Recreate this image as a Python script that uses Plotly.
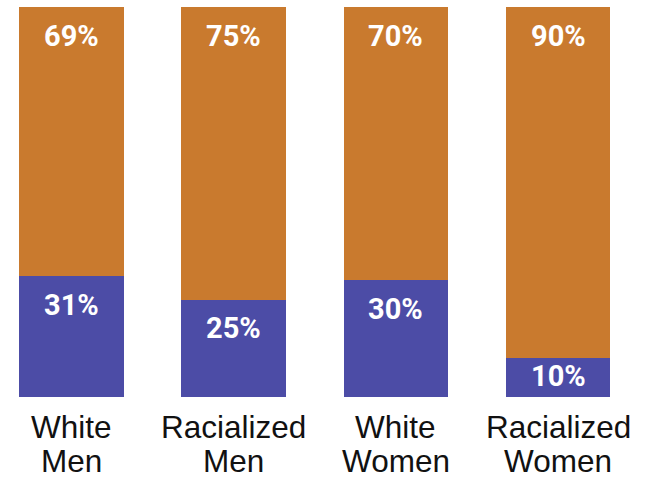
import plotly.graph_objects as go

categories_line1 = ["White", "Racialized", "White", "Racialized"]
categories_line2 = ["Men", "Men", "Women", "Women"]
share_bottom = [31, 25, 30, 10]
share_top = [69, 75, 70, 90]

BLUE = "#4C4CA6"
ORANGE = "#C97A2E"

W, H = 646, 478
M_T, M_B = 7, 81
plot_h = H - M_T - M_B

x = list(range(len(categories_line1)))
px_per_unit = 162.2
x0 = -71.5 / px_per_unit
x1 = x0 + W / px_per_unit

fig = go.Figure()
fig.add_trace(go.Bar(x=x, y=share_bottom, marker=dict(color=BLUE, line=dict(width=0)),
                     width=0.645, hoverinfo="skip"))
fig.add_trace(go.Bar(x=x, y=share_top, marker=dict(color=ORANGE, line=dict(width=0)),
                     width=0.645, hoverinfo="skip"))

annotations = []
lab_font = dict(family="Roboto", size=29, color="white", weight="bold")
cat_font = dict(family="Liberation Sans, Arial", size=31.5, color="#111111")
for i in x:
    b = share_bottom[i]
    t = share_top[i]
    seg_px = b / 100 * plot_h
    off = min(28.5, seg_px / 2 - 2)
    annotations.append(dict(x=i, y=b, xref="x", yref="y", text=f"{b}%", showarrow=False,
                            yanchor="middle", yshift=-off, font=lab_font))
    seg_px = t / 100 * plot_h
    off = min(28.5, seg_px / 2 - 2)
    annotations.append(dict(x=i, y=b + t, xref="x", yref="y", text=f"{t}%", showarrow=False,
                            yanchor="middle", yshift=-off, font=lab_font))
    annotations.append(dict(x=i, y=0, xref="x", yref="paper", text=categories_line1[i],
                            showarrow=False, yanchor="middle", yshift=-30, font=cat_font))
    annotations.append(dict(x=i, y=0, xref="x", yref="paper", text=categories_line2[i],
                            showarrow=False, yanchor="middle", yshift=-63.5, font=cat_font))

fig.update_layout(
    barmode="stack",
    width=W, height=H,
    margin=dict(l=0, r=0, t=M_T, b=M_B, pad=0),
    paper_bgcolor="white", plot_bgcolor="white",
    showlegend=False,
    xaxis=dict(range=[x0, x1], visible=False, fixedrange=True),
    yaxis=dict(range=[0, 100], visible=False, fixedrange=True),
    annotations=annotations,
)

fig.write_html("out.html", config={"displayModeBar": False})
